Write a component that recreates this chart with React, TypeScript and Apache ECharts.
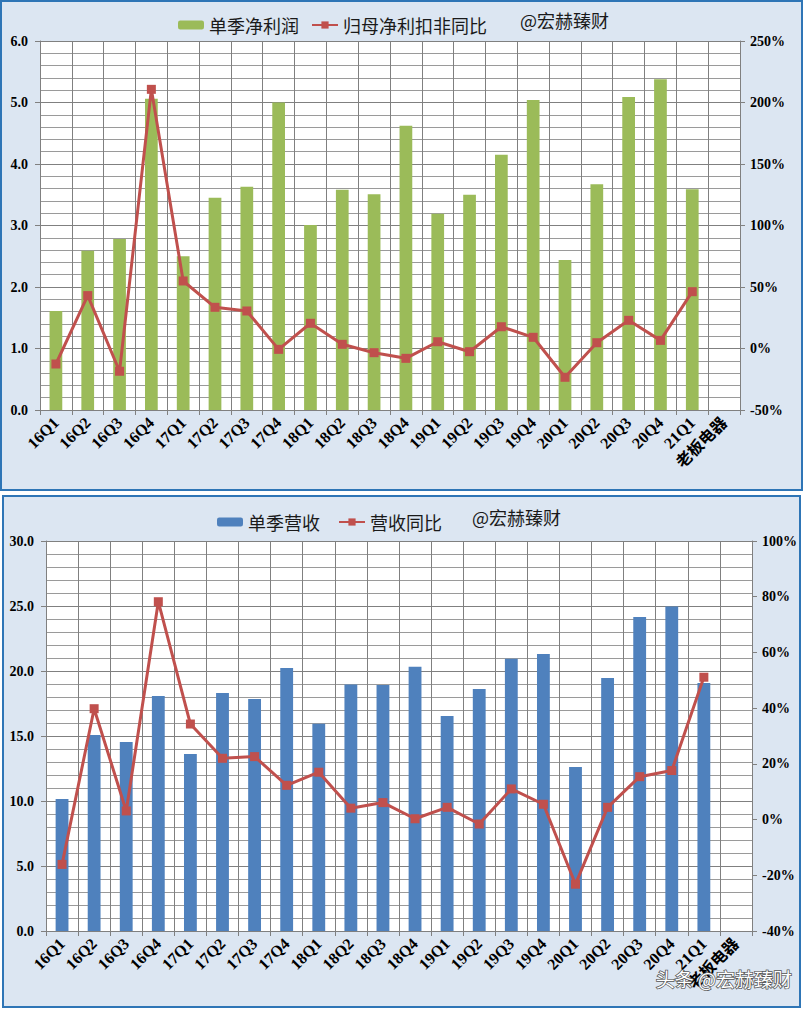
import React, { useEffect, useRef } from "react";
import * as echarts from "echarts";

const categories = [
  "16Q1", "16Q2", "16Q3", "16Q4", "17Q1", "17Q2", "17Q3", "17Q4",
  "18Q1", "18Q2", "18Q3", "18Q4", "19Q1", "19Q2", "19Q3", "19Q4",
  "20Q1", "20Q2", "20Q3", "20Q4", "21Q1", "老板电器",
];
const profit = [1.61, 2.59, 2.78, 5.06, 2.5, 3.45, 3.63, 5.0, 3.01, 3.58, 3.51, 4.62, 3.19, 3.5, 4.15, 5.04, 2.44, 3.67, 5.09, 5.38, 3.59, null];
const profitYoY = [-12.6, 43, -18.5, 210.7, 54.9, 33.5, 30.5, -0.7, 20.5, 3.4, -3.4, -8, 5.5, -2.6, 17.7, 9.1, -23.4, 4.7, 22.9, 6.6, 46.2, null];
const revenue = [10.15, 15.08, 14.54, 18.08, 13.62, 18.31, 17.85, 20.23, 15.95, 18.97, 18.92, 20.33, 16.54, 18.62, 20.95, 21.31, 12.62, 19.46, 24.15, 24.97, 19.08, null];
const revenueYoY = [-16.1, 39.8, 3.1, 78.2, 34.3, 22.0, 22.6, 12.3, 17.0, 4.1, 6.1, 0.3, 4.4, -1.6, 11.0, 5.5, -23.2, 4.4, 15.4, 17.6, 51.1, null];

const GRID = "#808080";
const MINOR = "#9a9a9a";
const RED = "#c0504d";
const GREEN = "#9bbb59";
const BLUE = "#4f81bd";
const BG = "#dce6f2";
const FRAME = "#2e75b6";
const SERIF = "'Liberation Serif', 'Times New Roman', serif";
const CJK = "'Noto Sans CJK SC', sans-serif";

const numLabel = { fontFamily: SERIF, fontWeight: "bold" as const, fontSize: 14, color: "#000" };

function xAxis(gridIndex: number) {
  return {
    type: "category",
    gridIndex,
    data: categories,
    boundaryGap: true,
    axisLine: { show: true, lineStyle: { color: GRID } },
    axisTick: { show: true, interval: 0, length: 5, lineStyle: { color: GRID } },
    splitLine: { show: true, interval: 0, lineStyle: { color: GRID, width: 1 } },
    axisLabel: {
      show: true,
      interval: 0,
      margin: 10,
      fontFamily: SERIF + ", " + CJK,
      fontWeight: "bold",
      fontSize: 16,
      color: "#000",
      hideOverlap: false,
      rotate: 45,
    },
  };
}

function leftAxis(gridIndex: number, max: number, interval: number) {
  return {
    type: "value",
    gridIndex,
    min: 0,
    max,
    interval,
    axisLine: { show: true, lineStyle: { color: GRID } },
    axisTick: { show: true, length: 5, lineStyle: { color: GRID } },
    axisLabel: { ...numLabel, margin: 12, formatter: (v: number) => v.toFixed(1) },
    splitLine: { show: true, lineStyle: { color: GRID, width: 1 } },
    minorTick: { show: false, splitNumber: 5 },
    minorSplitLine: { show: true, lineStyle: { color: MINOR, width: 1 } },
  };
}

function rightAxis(gridIndex: number, min: number, max: number, interval: number) {
  return {
    type: "value",
    gridIndex,
    position: "right",
    min,
    max,
    interval,
    axisLine: { show: true, lineStyle: { color: GRID } },
    axisTick: { show: true, length: 5, lineStyle: { color: GRID } },
    axisLabel: { ...numLabel, margin: 10, formatter: "{value}%" },
    splitLine: { show: false },
  };
}

export default function App() {
  const ref = useRef<HTMLDivElement>(null);
  useEffect(() => {
    document.body.style.margin = "0";
    const chart = echarts.init(ref.current!, null, { renderer: "svg" });
    chart.setOption({
      animation: false,
      backgroundColor: "#fff",
      graphic: [
        { type: "rect", z: -10, shape: { x: 1, y: 1, width: 801, height: 489 }, style: { fill: BG, stroke: FRAME, lineWidth: 2 } },
        { type: "rect", z: -10, shape: { x: 3, y: 496, width: 797, height: 511 }, style: { fill: BG, stroke: FRAME, lineWidth: 2 } },
        { type: "text", left: 520, top: 11, style: { text: "@宏赫臻财", fontSize: 18, fontFamily: CJK, fill: "#1a1a1a" } },
        { type: "text", left: 472, top: 508, style: { text: "@宏赫臻财", fontSize: 18, fontFamily: CJK, fill: "#1a1a1a" } },
        {
          type: "text", left: 655, top: 968, z: 100,
          style: { text: "头条 @宏赫臻财", fontSize: 19, fontFamily: CJK, fill: "#ffffff", stroke: "#555", lineWidth: 1.5 },
        },
      ],
      legend: [
        {
          data: ["单季净利润", "归母净利扣非同比"],
          left: 173, top: 11, itemWidth: 26, itemHeight: 9, itemGap: 12,
          textStyle: { fontSize: 18, fontFamily: CJK, color: "#1a1a1a" },
        },
        {
          data: ["单季营收", "营收同比"],
          left: 212, top: 508, itemWidth: 26, itemHeight: 9, itemGap: 18,
          textStyle: { fontSize: 18, fontFamily: CJK, color: "#1a1a1a" },
        },
      ],
      grid: [
        { left: 40, top: 41, width: 700, height: 369, show: true, backgroundColor: "#fff", borderWidth: 0 },
        { left: 46, top: 541, width: 706, height: 390, show: true, backgroundColor: "#fff", borderWidth: 0 },
      ],
      xAxis: [xAxis(0), xAxis(1)],
      yAxis: [
        leftAxis(0, 6, 1),
        rightAxis(0, -50, 250, 50),
        leftAxis(1, 30, 5),
        rightAxis(1, -40, 100, 20),
      ],
      series: [
        { name: "单季净利润", type: "bar", xAxisIndex: 0, yAxisIndex: 0, data: profit, barWidth: "40%", itemStyle: { color: GREEN } },
        {
          name: "归母净利扣非同比", type: "line", xAxisIndex: 0, yAxisIndex: 1, data: profitYoY,
          symbol: "rect", symbolSize: 9, lineStyle: { color: RED, width: 3 }, itemStyle: { color: RED },
        },
        { name: "单季营收", type: "bar", xAxisIndex: 1, yAxisIndex: 2, data: revenue, barWidth: "40%", itemStyle: { color: BLUE } },
        {
          name: "营收同比", type: "line", xAxisIndex: 1, yAxisIndex: 3, data: revenueYoY,
          symbol: "rect", symbolSize: 9, lineStyle: { color: RED, width: 3 }, itemStyle: { color: RED },
        },
      ],
    });
    return () => chart.dispose();
  }, []);
  return <div ref={ref} style={{ width: 803, height: 1009 }} />;
}
